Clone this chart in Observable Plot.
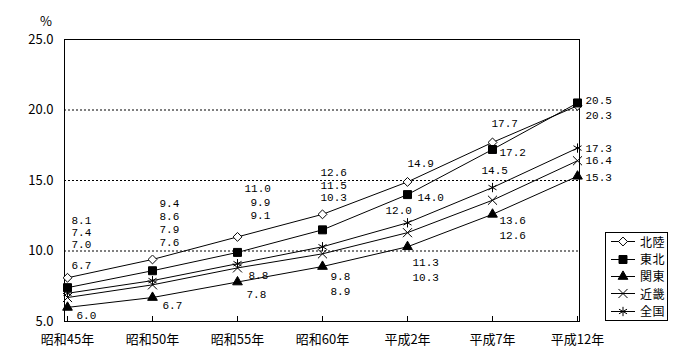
<!DOCTYPE html>
<html>
<head>
<meta charset="utf-8">
<script src="https://cdn.jsdelivr.net/npm/d3@7"></script>
<script src="https://cdn.jsdelivr.net/npm/@observablehq/plot@0.6"></script>
<style>
  html, body { margin: 0; padding: 0; background: #fff; }
  #wrap { position: relative; width: 700px; height: 360px; }
  #pct { position: absolute; left: 40px; top: 14px; font: 13px/14px "Noto Sans CJK JP", sans-serif; }
  #legend { position: absolute; left: 605px; top: 232px; width: 61px; height: 87px; border: 1px solid #000; background: #fff; font: 12px/14px "Noto Sans CJK JP", sans-serif; letter-spacing: 0.5px; }
  .row { display: flex; align-items: center; height: 17.4px; }
  .row svg { display: block; }
</style>
</head>
<body>
<div id="wrap">
  <div id="chart"></div>
  <div id="pct">%</div>
  <div id="legend"></div>
</div>
<script>
const categories = ["昭和45年", "昭和50年", "昭和55年", "昭和60年", "平成2年", "平成7年", "平成12年"];
const seriesNames = ["北陸", "東北", "関東", "近畿", "全国"];
const hokuriku = [8.1, 9.4, 11.0, 12.6, 14.9, 17.7, 20.3];
const tohoku   = [7.4, 8.6, 9.9, 11.5, 14.0, 17.2, 20.5];
const kanto    = [6.0, 6.7, 7.8, 8.9, 10.3, 12.6, 15.3];
const kinki    = [6.7, 7.6, 8.8, 9.8, 11.3, 13.6, 16.4];
const zenkoku  = [7.0, 7.9, 9.1, 10.3, 12.0, 14.5, 17.3];
const yTicks = [5, 10, 15, 20, 25];
const gridValues = [10, 15, 20];

// label placement (pixel offsets from each point)
const labelOffsets = {
  "北陸": [[4,-57],[7,-56],[7,-48],[-2,-42],[0,-18],[-1,-19],[8,10]],
  "東北": [[4,-55],[7,-54],[13,-50],[-2,-44],[10,3],[7,3],[8,-2]],
  "全国": [[4,-49],[7,-51],[13,-48],[-2,-49],[-22,-12],[-11,-17],[8,0]],
  "近畿": [[4,-32],[7,-42],[11,8],[8,23],[5,30],[7,20],[8,0]],
  "関東": [[9,8],[10,8],[9,12],[8,25],[5,31],[7,21],[8,1]]
};

const seriesValues = {"北陸": hokuriku, "東北": tohoku, "関東": kanto, "近畿": kinki, "全国": zenkoku};
const styles = {
  "北陸": {symbol: "diamond2", fill: "white", stroke: "black", r: 4},
  "東北": {symbol: "square", fill: "black", stroke: "black", r: 4.5},
  "関東": {symbol: "triangle", fill: "black", stroke: "black", r: 3.6},
  "近畿": {symbol: "times", fill: "none", stroke: "black", r: 4.2},
  "全国": {symbol: "asterisk", fill: "none", stroke: "black", r: 4.4}
};

const table = [];
for (const s of seriesNames) {
  seriesValues[s].forEach((v, i) => table.push({series: s, cat: categories[i], value: v, i}));
}

const font = '"Liberation Mono", monospace';
const marks = [
  Plot.ruleY(gridValues, {stroke: "black", strokeDasharray: "2,2", strokeWidth: 1}),
  Plot.ruleX(categories, {y1: 5, y2: 5, insetBottom: 5, stroke: "black"}),
  Plot.frame({stroke: "black"}),
  Plot.axisY({ticks: yTicks, tickFormat: d => d.toFixed(1), tickSize: 0, tickPadding: 11, fontSize: 13, fontFamily: '"Noto Sans CJK JP", sans-serif', label: null}),
  Plot.axisX({tickSize: 0, tickPadding: 13, fontSize: 13, fontFamily: '"Noto Sans CJK JP", sans-serif', label: null})
];
for (const s of seriesNames) {
  const d = table.filter(r => r.series === s);
  const st = styles[s];
  marks.push(Plot.line(d, {x: "cat", y: "value", stroke: "black", strokeWidth: 1}));
  marks.push(Plot.dot(d, {x: "cat", y: "value", symbol: () => st.symbol, r: st.r, fill: st.fill, stroke: st.stroke, strokeWidth: 1}));
}
for (const s of seriesNames) {
  const d = table.filter(r => r.series === s);
  d.forEach(r => {
    const [dx, dy] = labelOffsets[s][r.i];
    marks.push(Plot.text([r], {x: "cat", y: "value", text: v => v.value.toFixed(1), dx, dy, textAnchor: "start", fontSize: 11, fontFamily: font, fill: "black"}));
  });
}

const chart = Plot.plot({
  width: 700, height: 360,
  marginLeft: 64, marginRight: 121, marginTop: 39, marginBottom: 39,
  x: {type: "point", domain: categories, padding: 0},
  y: {domain: [5, 25]},
  symbol: {type: "identity"},
  style: {background: "white", color: "black", overflow: "visible"},
  marks
});
document.getElementById("chart").appendChild(chart);

// legend
const legend = d3.select("#legend");
for (const s of seriesNames) {
  const st = styles[s];
  const row = legend.append("div").attr("class", "row");
  const svg = row.append("svg").attr("width", 34).attr("height", 17);
  svg.append("line").attr("x1", 5).attr("x2", 29).attr("y1", 8.5).attr("y2", 8.5).attr("stroke", "black");
  const sym = {diamond2: d3.symbolDiamond2, square: d3.symbolSquare, triangle: d3.symbolTriangle, times: d3.symbolTimes, asterisk: d3.symbolAsterisk}[st.symbol];
  svg.append("path").attr("transform", "translate(17,8.5)")
    .attr("d", d3.symbol(sym, st.r * st.r * Math.PI)())
    .attr("fill", st.fill).attr("stroke", st.stroke);
  row.append("span").text(s);
}
</script>
</body>
</html>
